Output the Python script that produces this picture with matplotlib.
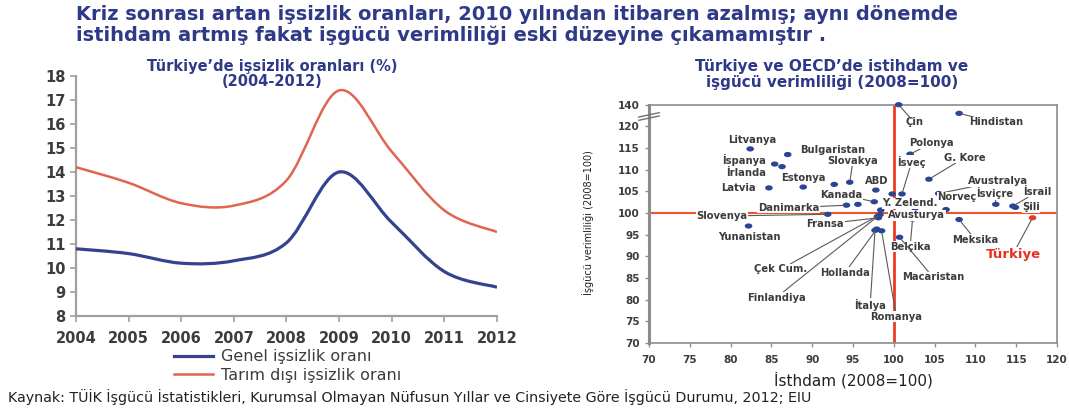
import numpy as np
import matplotlib
matplotlib.use("Agg")
import matplotlib.pyplot as plt
from matplotlib.path import Path
from matplotlib.patches import PathPatch
from matplotlib.lines import Line2D

# --- left chart data: unemployment rates (%) ---
years = [2004, 2005, 2006, 2007, 2008, 2009, 2010, 2011, 2012]
genel = [10.8, 10.6, 10.2, 10.3, 11.05, 14.0, 11.9, 9.85, 9.2]
tarim_disi = [14.2, 13.55, 12.7, 12.6, 13.65, 17.4, 14.85, 12.4, 11.5]

# --- right chart data: employment vs productivity (2008=100) ---
countries = ["Çin", "Hindistan", "Litvanya", "Bulgaristan", "İspanya", "İrlanda",
             "Latvia", "Estonya", "", "Slovakya", "ABD", "Polonya", "G. Kore",
             "İsveç", "", "Avustralya", "Kanada", "Danimarka", "", "Slovenya",
             "Yunanistan", "Fransa", "Avusturya", "Çek Cum.", "Finlandiya",
             "Hollanda", "İtalya", "Romanya", "Belçika", "Macaristan",
             "Y. Zelend.", "Norveç", "İsviçre", "İsrail", "Şili", "Meksika",
             "Türkiye"]
istihdam = [100.6, 108.0, 82.4, 87.0, 85.4, 86.3, 84.7, 88.9, 92.7, 94.6, 97.8,
            102.0, 104.3, 101.0, 99.8, 105.5, 97.6, 94.2, 95.6, 91.9, 82.2, 98.1,
            98.4, 98.3, 98.0, 97.9, 97.7, 98.5, 102.3, 100.7, 102.6, 106.4,
            112.5, 114.6, 114.9, 108.0, 117.0]
verimlilik = [140.0, 132.0, 114.8, 113.5, 111.3, 110.7, 105.8, 106.0, 106.6,
              107.1, 105.3, 113.6, 107.8, 104.4, 104.4, 104.5, 102.6, 101.8,
              102.0, 99.7, 97.0, 98.9, 100.7, 99.6, 99.2, 96.3, 96.0, 95.9,
              98.6, 94.4, 101.1, 100.8, 102.0, 101.6, 101.3, 98.5, 98.9]

# label placement (x, y, leader line?)
label_pos = {
    "Çin": (102.5, 123.6, True), "Hindistan": (112.5, 123.6, True),
    "Litvanya": (82.6, 116.8, False), "Bulgaristan": (92.5, 114.5, False),
    "İspanya": (81.6, 112.2, False), "İrlanda": (81.9, 109.2, False),
    "Latvia": (80.9, 105.7, False), "Estonya": (88.9, 108.0, False),
    "Slovakya": (95.0, 112.1, True), "ABD": (97.9, 107.4, False),
    "Polonya": (104.6, 116.1, True), "G. Kore": (108.7, 112.8, True),
    "İsveç": (102.2, 111.8, True), "Avustralya": (112.8, 107.3, True),
    "Kanada": (93.6, 104.2, True), "Danimarka": (87.1, 101.2, True),
    "Slovenya": (78.9, 99.3, True), "Yunanistan": (82.3, 94.5, False),
    "Fransa": (91.6, 97.5, True), "Avusturya": (102.8, 99.5, False),
    "Çek Cum.": (86.1, 87.0, True), "Finlandiya": (85.6, 80.5, True),
    "Hollanda": (94.0, 86.2, True), "İtalya": (97.1, 78.8, True),
    "Romanya": (100.3, 76.1, True), "Belçika": (102.0, 92.2, True),
    "Macaristan": (104.8, 85.2, True), "Y. Zelend.": (102.0, 102.2, False),
    "Norveç": (107.7, 103.6, False), "İsviçre": (112.4, 104.6, True),
    "İsrail": (117.6, 104.9, True), "Şili": (116.8, 101.3, False),
    "Meksika": (110.0, 93.8, True), "Türkiye": (114.6, 90.5, True),
}

NAVY = "#2E3A87"
DOT = "#2B4595"
RED_LINE = "#F0522E"
GRAY = "#3c3c3c"


def smooth_path(xs, ys):
    # excel style smoothed line as cubic bezier segments
    pts = np.column_stack([xs, ys]).astype(float)
    n = len(pts)
    verts = [pts[0]]
    codes = [Path.MOVETO]
    for i in range(n - 1):
        p0 = pts[i - 1] if i > 0 else pts[i]
        p1, p2 = pts[i], pts[i + 1]
        p3 = pts[i + 2] if i + 2 < n else pts[i + 1]
        c1 = p1 + (p2 - p0) / 6.0
        c2 = p2 - (p3 - p1) / 6.0
        verts += [c1, c2, p2]
        codes += [Path.CURVE4] * 3
    return Path(verts, codes)


def fwd(y):
    y = np.asarray(y, dtype=float)
    return np.where(y <= 120, y, 120 + (y - 120) / 4.0)


def inv(d):
    d = np.asarray(d, dtype=float)
    return np.where(d <= 120, d, 120 + (d - 120) * 4.0)


fig = plt.figure(figsize=(10.69, 4.13), dpi=100)

# titles
fig.text(76 / 1069, 1 - 15 / 413,
         "Kriz sonrası artan işsizlik oranları, 2010 yılından itibaren azalmış; aynı dönemde",
         fontsize=14, fontweight="bold", color=NAVY, va="center")
fig.text(76 / 1069, 1 - 35 / 413,
         "istihdam artmış fakat işgücü verimliliği eski düzeyine çıkamamıştır .",
         fontsize=14, fontweight="bold", color=NAVY, va="center")

# ---------------- left chart ----------------
ax1 = fig.add_axes([0.0711, 0.2349, 0.3938, 0.5811])
ax1.add_patch(PathPatch(smooth_path(years, tarim_disi), fill=False,
                        ec="#E0654F", lw=1.8, zorder=3))
ax1.add_patch(PathPatch(smooth_path(years, genel), fill=False,
                        ec="#34428F", lw=2.3, zorder=3))
ax1.set_xlim(2004, 2012)
ax1.set_ylim(8, 18)
ax1.set_xticks(years)
ax1.set_yticks(range(8, 19))
for s in ["top", "right"]:
    ax1.spines[s].set_visible(False)
for s in ["left", "bottom"]:
    ax1.spines[s].set_color("#a0a0a0")
    ax1.spines[s].set_linewidth(1.6)
ax1.tick_params(axis="both", colors="#a0a0a0", length=4, width=1.2,
                labelcolor=GRAY, labelsize=10.5)
ax1.tick_params(axis="x", pad=7)
for t in ax1.get_xticklabels() + ax1.get_yticklabels():
    t.set_fontweight("bold")

fig.text(272 / 1069, 1 - 66 / 413, "Türkiye’de işsizlik oranları (%)",
         ha="center", va="center", fontsize=10.5, fontweight="bold", color=NAVY)
fig.text(272 / 1069, 1 - 82 / 413, "(2004-2012)",
         ha="center", va="center", fontsize=10.5, fontweight="bold", color=NAVY)

handles = [Line2D([], [], color="#34428F", lw=2.3),
           Line2D([], [], color="#E0654F", lw=1.8)]
fig.legend(handles, ["Genel işsizlik oranı", "Tarım dışı işsizlik oranı"],
           loc="upper left", bbox_to_anchor=(0.157, 1 - 343 / 413),
           frameon=False, fontsize=11.5, handlelength=2.4, handletextpad=0.5,
           labelspacing=0.2, labelcolor=GRAY, borderaxespad=0)

# ---------------- right chart ----------------
ax2 = fig.add_axes([0.6071, 0.1695, 0.3817, 0.577])
ax2.set_yscale("function", functions=(fwd, inv))
ax2.set_xlim(70, 120)
ax2.set_ylim(70, 140)
ax2.set_xticks(range(70, 121, 5))
ax2.set_yticks(list(range(70, 121, 5)) + [140])
ax2.yaxis.set_minor_locator(matplotlib.ticker.NullLocator())
for s in ax2.spines.values():
    s.set_color("#8c8c8c")
    s.set_linewidth(1.2)
ax2.spines["left"].set_linewidth(2.2)
ax2.tick_params(axis="both", colors="#8c8c8c", length=3, width=1,
                labelcolor=GRAY, labelsize=7.5)
ax2.tick_params(axis="x", pad=6)
for t in ax2.get_xticklabels() + ax2.get_yticklabels():
    t.set_fontweight("bold")

# axis break marks near the top of the y axis
for dy in (0, 1.5):
    ax2.plot([-0.025, 0.025], [inv(121.4 + dy / 2), inv(122.4 + dy / 2)],
             transform=ax2.get_yaxis_transform(), color="#707070",
             lw=1, clip_on=False, zorder=7)

# reference lines at 100
ax2.axhline(100, color=RED_LINE, lw=1.5, zorder=1)
ax2.axvline(100, color="#EE3A24", lw=2.0, zorder=1)

# ellipse marker
theta = np.linspace(0, 2 * np.pi, 40)
ell = Path(np.column_stack([1.45 * np.cos(theta), np.sin(theta)]), closed=True)
colors = ["#E03C31" if c == "Türkiye" else DOT for c in countries]
ax2.scatter(istihdam, verimlilik, marker=ell, s=30, c=colors,
            linewidths=0, zorder=4, clip_on=False)

for name, x, y in zip(countries, istihdam, verimlilik):
    if not name:
        continue
    lx, ly, leader = label_pos[name]
    is_tr = name == "Türkiye"
    kw = dict(ha="center", va="center",
              fontsize=9.5 if is_tr else 7.2, fontweight="bold",
              color="#E8301F" if is_tr else GRAY,
              bbox=dict(boxstyle="square,pad=0.05", fc="white", ec="none"),
              zorder=5, annotation_clip=False)
    if leader:
        kw["arrowprops"] = dict(arrowstyle="-", color="#5a5a5a", lw=0.8,
                                shrinkA=0, shrinkB=2)
    ax2.annotate(name, xy=(x, y), xytext=(lx, ly), **kw)

fig.text(832 / 1069, 1 - 66 / 413, "Türkiye ve OECD’de istihdam ve",
         ha="center", va="center", fontsize=11, fontweight="bold", color=NAVY)
fig.text(832 / 1069, 1 - 83 / 413, "işgücü verimliliği (2008=100)",
         ha="center", va="center", fontsize=11, fontweight="bold", color=NAVY)
fig.text(588 / 1069, 1 - 223 / 413, "İşgücü verimliliği (2008=100)",
         rotation=90, ha="center", va="center", fontsize=7, color="#222222")
fig.text(853 / 1069, 1 - 380 / 413, "İsthdam (2008=100)",
         ha="center", va="center", fontsize=11, color="#222222")

fig.text(8 / 1069, 1 - 397 / 413,
         "Kaynak: TÜİK İşgücü İstatistikleri, Kurumsal Olmayan Nüfusun Yıllar ve "
         "Cinsiyete Göre İşgücü Durumu, 2012; EIU",
         va="center", fontsize=10.3, color="#222222")

fig.savefig("out.png", dpi=100)
